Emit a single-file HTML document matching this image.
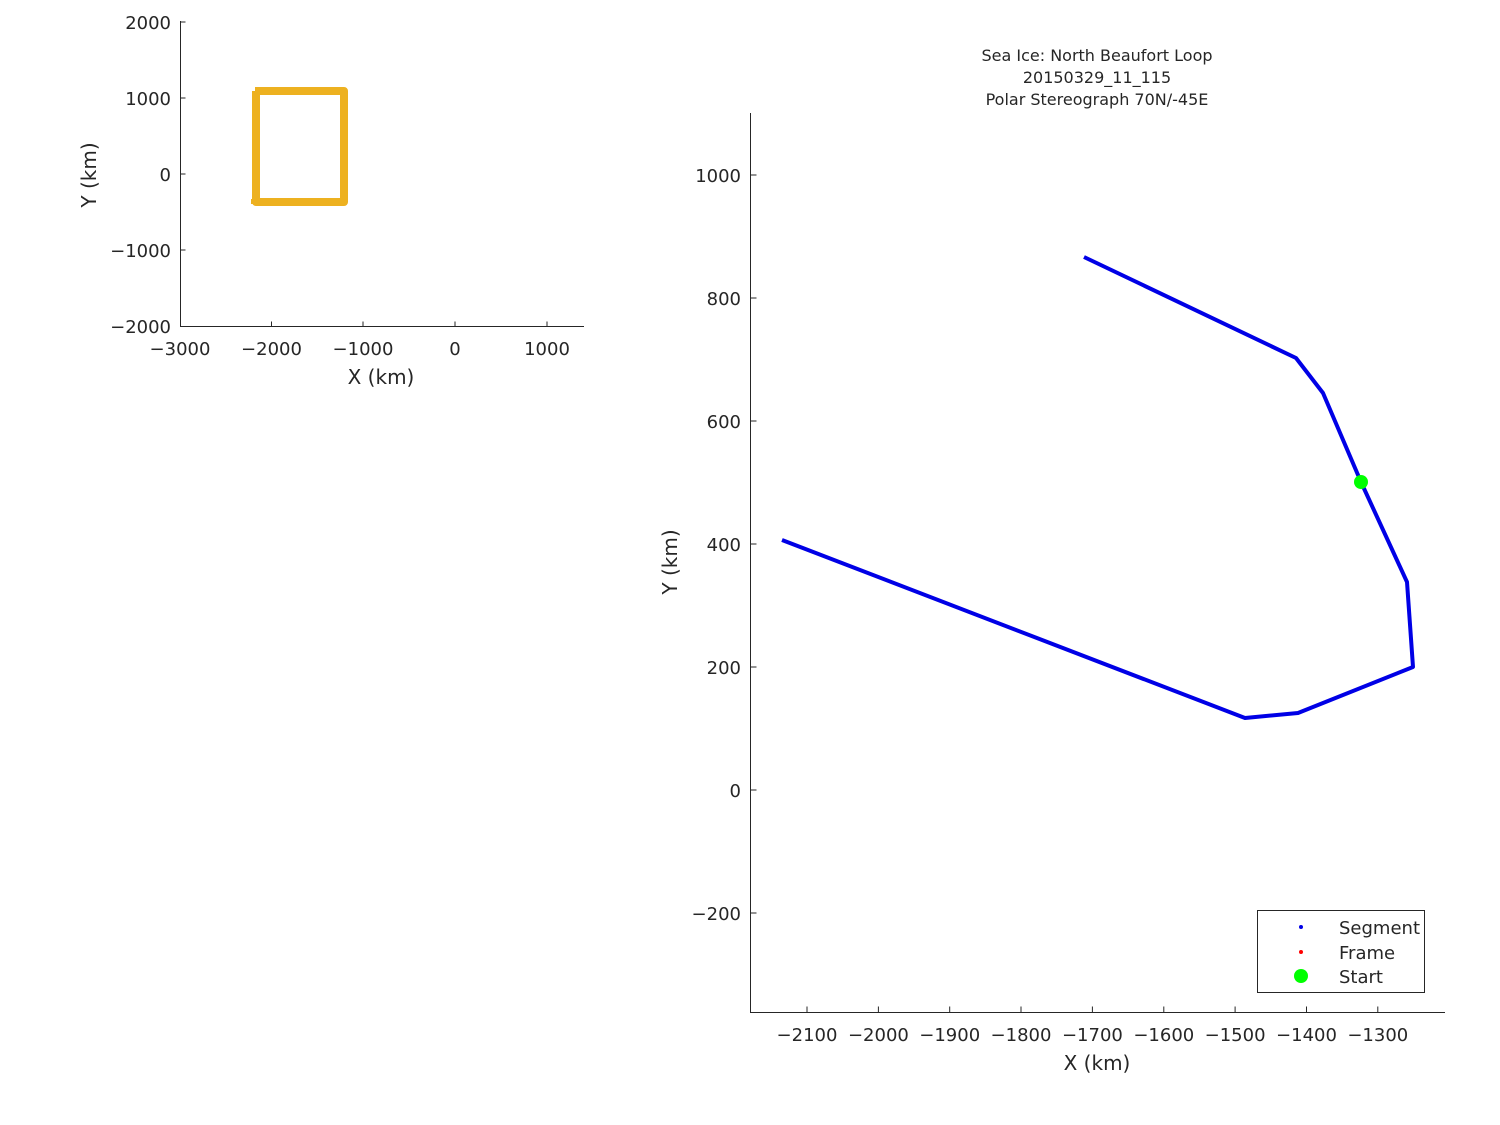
<!DOCTYPE html>
<html><head><meta charset="utf-8"><style>body{margin:0;background:#fff}svg{display:block}text{font-family:"DejaVu Sans","Liberation Sans",sans-serif;fill:#262626}</style></head>
<body>
<svg width="1500" height="1125" viewBox="0 0 1500 1125" xmlns="http://www.w3.org/2000/svg">
<rect width="1500" height="1125" fill="#fff"/>
<!-- Left plot -->
<g stroke="#262626" stroke-width="1" fill="none">
<path d="M180.5 21V326.5H584"/>
<path d="M180.5 22h5M180.5 98h5M180.5 174h5M180.5 250h5"/>
<path d="M271.5 326.5v-5M363 326.5v-5M455 326.5v-5M547 326.5v-5"/>
</g>
<g font-size="18" text-anchor="end">
<text x="171" y="29">2000</text><text x="171" y="105">1000</text><text x="171" y="181">0</text><text x="171" y="257">−1000</text><text x="171" y="333">−2000</text>
</g>
<g font-size="18" text-anchor="middle">
<text x="180" y="355">−3000</text><text x="271.5" y="355">−2000</text><text x="363" y="355">−1000</text><text x="455" y="355">0</text><text x="547" y="355">1000</text>
</g>
<text x="381" y="384" font-size="20" text-anchor="middle">X (km)</text>
<text transform="translate(96 175) rotate(-90)" font-size="20" text-anchor="middle">Y (km)</text>
<path d="M255 91H344V202H256V91" fill="none" stroke="#EDB120" stroke-width="8" stroke-linejoin="round"/>
<path d="M251 201.5H259" stroke="#EDB120" stroke-width="5"/>
<!-- Right plot -->
<g font-size="16" text-anchor="middle">
<text x="1097" y="61">Sea Ice: North Beaufort Loop</text>
<text x="1097" y="83">20150329_11_115</text>
<text x="1097" y="105">Polar Stereograph 70N/-45E</text>
</g>
<g stroke="#262626" stroke-width="1" fill="none">
<path d="M750.5 113V1012.5H1445"/>
<path d="M750.5 175h6M750.5 298h6M750.5 421h6M750.5 544h6M750.5 667h6M750.5 790h6M750.5 913h6"/>
<path d="M807 1012.5v-6M878.4 1012.5v-6M949.7 1012.5v-6M1021 1012.5v-6M1092.4 1012.5v-6M1163.8 1012.5v-6M1235.1 1012.5v-6M1306.5 1012.5v-6M1377.8 1012.5v-6"/>
</g>
<g font-size="18" text-anchor="end">
<text x="741" y="182">1000</text><text x="741" y="305">800</text><text x="741" y="428">600</text><text x="741" y="551">400</text><text x="741" y="674">200</text><text x="741" y="797">0</text><text x="741" y="920">−200</text>
</g>
<g font-size="18" text-anchor="middle">
<text x="807" y="1041">−2100</text><text x="878.4" y="1041">−2000</text><text x="949.7" y="1041">−1900</text><text x="1021" y="1041">−1800</text><text x="1092.4" y="1041">−1700</text><text x="1163.8" y="1041">−1600</text><text x="1235.1" y="1041">−1500</text><text x="1306.5" y="1041">−1400</text><text x="1377.8" y="1041">−1300</text>
</g>
<text x="1097" y="1070" font-size="20" text-anchor="middle">X (km)</text>
<text transform="translate(677 562) rotate(-90)" font-size="20" text-anchor="middle">Y (km)</text>
<polyline points="1084,257 1296,358 1323,393 1361,482 1407,582 1413,667 1298,713 1245,718 782,540" fill="none" stroke="#0000E6" stroke-width="4" stroke-linejoin="round"/>
<circle cx="1361" cy="482" r="7" fill="#00FF00"/>
<!-- Legend -->
<rect x="1257.5" y="910.5" width="167" height="82" fill="#fff" stroke="#262626" stroke-width="1"/>
<circle cx="1301" cy="927" r="2" fill="#0000E6"/>
<circle cx="1301" cy="952" r="2" fill="#FF0000"/>
<circle cx="1301" cy="976" r="7" fill="#00FF00"/>
<g font-size="18"><text x="1339" y="934">Segment</text><text x="1339" y="959">Frame</text><text x="1339" y="983">Start</text></g>
</svg>
</body></html>
